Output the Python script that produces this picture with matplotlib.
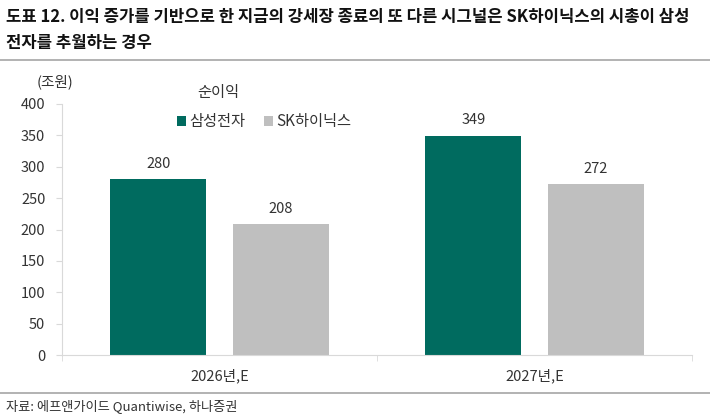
import numpy as np
import matplotlib.pyplot as plt
from matplotlib.lines import Line2D

plt.rcParams['font.family'] = ['Noto Sans CJK KR', 'DejaVu Sans']

categories = ['2026년,E', '2027년,E']
samsung = [280, 349]
hynix = [208, 272]
series_names = ['삼성전자', 'SK하이닉스']
colors = ['#006B5F', '#BFBFBF']

fig = plt.figure(figsize=(7.1, 4.18), dpi=100)
ax = fig.add_axes([0.0873, 0.1507, 0.8873, 0.6005])

x = np.arange(len(categories))
w = 0.305
off = 0.194
b1 = ax.bar(x - off, samsung, w, color=colors[0], label=series_names[0])
b2 = ax.bar(x + off, hynix, w, color=colors[1], label=series_names[1])
for bars, vals in ((b1, samsung), (b2, hynix)):
    for b, v in zip(bars, vals):
        ax.text(b.get_x() + b.get_width() / 2, v + 14, str(v), ha='center', va='bottom',
                fontsize=10.5, color='#333333')

ax.set_xlim(-0.5, 1.5)
ax.set_ylim(0, 400)
ax.set_yticks(range(0, 401, 50))
ax.set_xticks(x)
ax.set_xticklabels(categories, fontsize=10.5, color='#333333')
ax.set_xticks([-0.5, 0.5, 1.5], minor=True)
ax.tick_params(axis='x', which='major', length=0, pad=10)
ax.tick_params(axis='x', which='minor', length=4, color='#D9D9D9')
ax.tick_params(axis='y', length=4, color='#D9D9D9', labelsize=10.5, labelcolor='#333333', pad=8)
for s in ('top', 'right'):
    ax.spines[s].set_visible(False)
ax.spines['left'].set_color('#D9D9D9')
ax.spines['bottom'].set_color('#D9D9D9')

leg = ax.legend(loc='center left', bbox_to_anchor=(0.173, 0.93), ncol=2,
                frameon=False, fontsize=11, handlelength=0.6, handleheight=0.6,
                handletextpad=0.2, columnspacing=1.2, borderaxespad=0)
for t in leg.get_texts():
    t.set_color('#333333')

fig.text(218 / 710, 1 - 92 / 418, '순이익', fontsize=11, color='#333333', ha='center', va='center')
fig.text(55 / 710, 1 - 82 / 418, '(조원)', fontsize=10.5, color='#333333', ha='center', va='center')

fig.text(0.008, 1 - 17 / 418, '도표 12. 이익 증가를 기반으로 한 지금의 강세장 종료의 또 다른 시그널은 SK하이닉스의 시총이 삼성',
         fontsize=12, fontweight='bold', va='center', color='#111111')
fig.text(0.008, 1 - 43 / 418, '전자를 추월하는 경우', fontsize=12, fontweight='bold', va='center',
         color='#111111')
fig.add_artist(Line2D([0, 1], [0.857, 0.857], color='#A6A6A6', lw=1.2))
fig.add_artist(Line2D([0, 1], [0.06, 0.06], color='#A6A6A6', lw=1.2))
fig.text(0.008, 0.028, '자료: 에프앤가이드 Quantiwise, 하나증권', fontsize=9.5, va='center',
         color='#333333')

fig.savefig('out.png', dpi=100)
